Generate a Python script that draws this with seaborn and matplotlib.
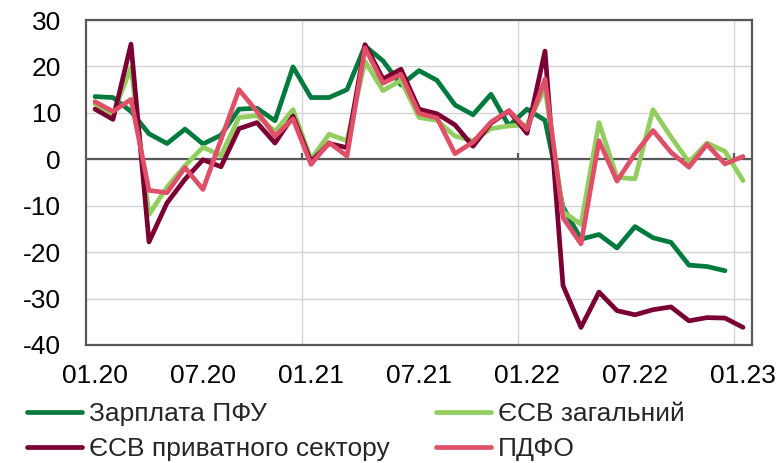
import numpy as np
import pandas as pd
import matplotlib
matplotlib.use("Agg")
import matplotlib.pyplot as plt
from matplotlib.lines import Line2D
import seaborn as sns

# monthly series, 01.20 .. 01.23 (37 months)
n_months = 37
tick_labels = ["01.20", "07.20", "01.21", "07.21", "01.22", "07.22", "01.23"]

zarplata_pfu = [13.5, 13.3, 10.3, 5.5, 3.4, 6.5, 3.3, 5.2, 10.8, 11.0, 8.3, 19.9,
                13.3, 13.3, 15.0, 24.4, 21.2, 16.0, 19.1, 17.0, 11.7, 9.6, 14.0, 7.2,
                10.8, 8.4, -10.3, -17.2, -16.2, -19.1, -14.5, -16.9, -17.9, -22.8, -23.1, -24.0,
                np.nan]
esv_total = [11.9, 9.8, 19.8, -11.9, -6.0, -1.4, 2.6, 0.8, 9.0, 9.4, 6.0, 10.7,
             0.0, 5.4, 4.0, 21.1, 14.8, 17.0, 9.0, 8.4, 5.0, 4.0, 6.6, 7.2,
             7.4, 15.3, -11.3, -14.0, 7.9, -3.9, -4.2, 10.7, 4.8, -0.6, 3.5, 1.7,
             -4.6]
esv_private = [10.8, 8.6, 24.8, -17.8, -9.4, -4.3, -0.1, -1.6, 6.6, 7.9, 3.5, 9.3,
               -0.5, 3.4, 2.5, 24.7, 17.3, 19.4, 10.8, 9.8, 7.4, 2.8, 7.8, 10.4,
               5.6, 23.3, -27.2, -36.2, -28.6, -32.6, -33.5, -32.4, -31.8, -34.8, -34.1, -34.2,
               -36.2]
pdfo = [12.4, 10.3, 12.9, -6.7, -7.2, -1.8, -6.5, 4.2, 15.0, 10.3, 5.0, 8.7,
        -1.1, 3.6, 0.7, 24.0, 16.4, 18.3, 9.9, 8.9, 1.2, 3.7, 8.0, 10.5,
        6.4, 17.3, -12.6, -18.2, 4.0, -4.7, 1.2, 6.2, 1.5, -1.7, 3.2, -1.0,
        0.6]

names = ["Зарплата ПФУ", "ЄСВ загальний", "ЄСВ приватного сектору", "ПДФО"]
colors = {
    "Зарплата ПФУ": "#007A3D",
    "ЄСВ загальний": "#92CD5F",
    "ЄСВ приватного сектору": "#7A0033",
    "ПДФО": "#DF4F68",
}

month_idx = np.arange(n_months)
df = pd.DataFrame({
    "month": np.tile(month_idx, 4),
    "value": zarplata_pfu + esv_total + esv_private + pdfo,
    "series": np.repeat(names, n_months),
}).dropna()

sns.set_theme(style="white")
plt.rcParams["font.family"] = ["Liberation Sans", "DejaVu Sans"]
plt.rcParams["axes.unicode_minus"] = False

fig = plt.figure(figsize=(7.84, 4.63), dpi=100)
ax = fig.add_axes([86 / 784, 118 / 463, 666 / 784, 325 / 463])

axis_gray = "#595959"
grid_gray = "#D4D4D4"

# grid first
for y in range(-40, 31, 10):
    ax.axhline(y, color=grid_gray, lw=1.0, zorder=0)
for x in (11.5, 23.5, 35.5):
    ax.axvline(x, color=grid_gray, lw=1.0, zorder=0)

sns.lineplot(data=df, x="month", y="value", hue="series", hue_order=names,
             palette=colors, linewidth=3.4, legend=False, ax=ax,
             solid_joinstyle="round", solid_capstyle="round")

# horizontal axis line at zero with yearly tick marks
ax.axhline(0, color=axis_gray, lw=1.6, zorder=1)
ax.vlines([11.5, 23.5, 35.5], 0, 1.3, color=axis_gray, lw=1.6, zorder=1)

ax.set_xlim(-0.5, 36.5)
ax.set_ylim(-40, 30)
ax.set_yticks(range(-40, 31, 10))
ax.set_xticks(range(0, 37, 6))
ax.set_xticklabels(tick_labels)
ax.set_xlabel("")
ax.set_ylabel("")

for s in ax.spines.values():
    s.set_visible(True)
    s.set_color(axis_gray)
    s.set_linewidth(1.6)

ax.tick_params(axis="y", direction="in", length=5, width=1.6, color=axis_gray,
               labelsize=19, labelcolor="black", pad=18)
ax.tick_params(axis="x", length=0, labelsize=19, labelcolor="black", pad=14)

handles = [Line2D([], [], color=colors[n], lw=3.4, solid_capstyle="round") for n in names]
order = [0, 2, 1, 3]
fig.legend([handles[i] for i in order], [names[i] for i in order],
           ncol=2, loc="upper left", bbox_to_anchor=(27 / 784, 1 - 402 / 463),
           frameon=False, fontsize=19, handlelength=2.1, handletextpad=0.25,
           columnspacing=1.75, labelspacing=0.42, borderaxespad=0, borderpad=0)

fig.savefig("out.png", dpi=100)
